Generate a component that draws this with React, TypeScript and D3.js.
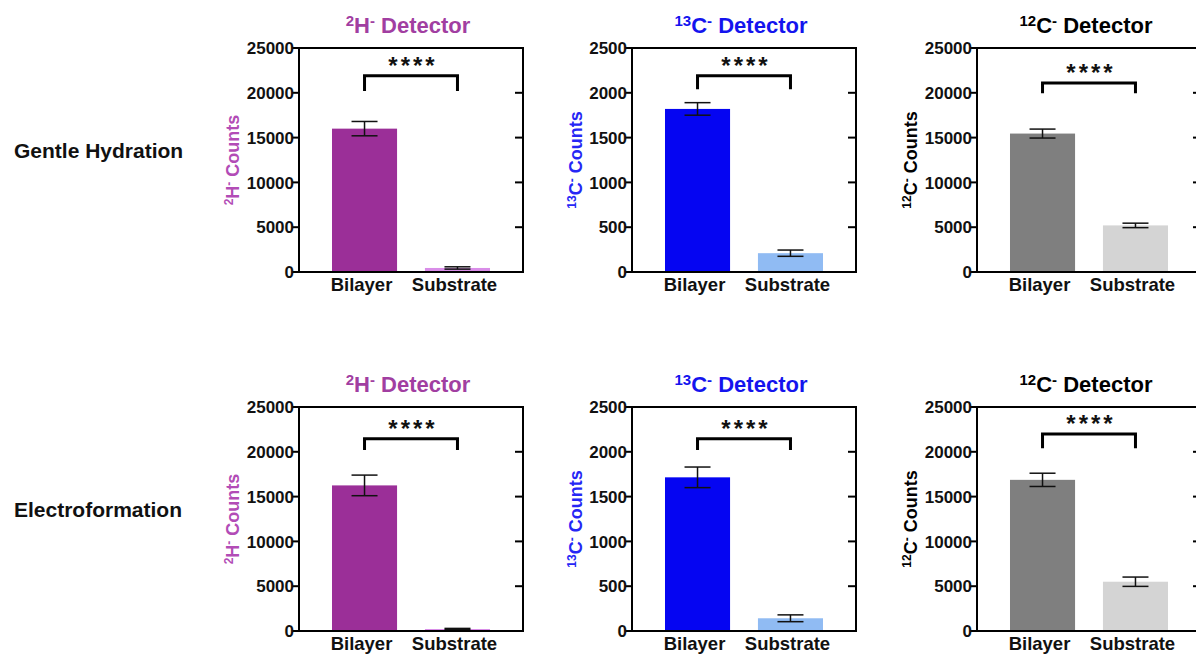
import React from "react";
import * as d3 from "d3";

const categories = ["Bilayer", "Substrate"];
const rowLabels = ["Gentle Hydration", "Electroformation"];

// [row][category]
const h2Means = [[16000, 450], [16250, 220]];
const h2Errors = [[800, 130], [1150, 70]];
const c13Means = [[1820, 210], [1715, 142]];
const c13Errors = [[70, 35], [115, 38]];
const c12Means = [[15450, 5200], [16870, 5500]];
const c12Errors = [[500, 250], [740, 520]];

// significance bracket: [top, leg bottom] per row
const h2Bracket = [[21900, 20200], [21450, 20200]];
const c13Bracket = [[2190, 2040], [2145, 2020]];
const c12Bracket = [[21100, 19950], [22000, 20400]];

const countTicks = [0, 5000, 10000, 15000, 20000, 25000];
const c13Ticks = [0, 500, 1000, 1500, 2000, 2500];

const FONT = "Arial, 'Liberation Sans', Helvetica, sans-serif";

type Detector = {
  mass: string;
  el: string;
  means: number[][];
  errors: number[][];
  bracket: number[][];
  ticks: number[];
  barColors: string[];
  titleColor: string;
  labelColor: string;
  left: number;
  labelOffset: number;
};

const detectors: Detector[] = [
  {
    mass: "2", el: "H", means: h2Means, errors: h2Errors, bracket: h2Bracket, ticks: countTicks,
    barColors: ["#9B2F98", "#D98DE8"], titleColor: "#A13EA1", labelColor: "#B24CB6", left: 299, labelOffset: 60,
  },
  {
    mass: "13", el: "C", means: c13Means, errors: c13Errors, bracket: c13Bracket, ticks: c13Ticks,
    barColors: ["#0505F2", "#90BBF3"], titleColor: "#1414EE", labelColor: "#2626F5", left: 632, labelOffset: 50,
  },
  {
    mass: "12", el: "C", means: c12Means, errors: c12Errors, bracket: c12Bracket, ticks: countTicks,
    barColors: ["#7F7F7F", "#D4D4D4"], titleColor: "#000000", labelColor: "#000000", left: 977, labelOffset: 60,
  },
];

const rowTops = [48, 407];
const plotW = 224;
const plotH = 224;

function Panel({ d, row }: { d: Detector; row: number }) {
  const top = rowTops[row];
  const left = d.left;
  const bottom = top + plotH;
  const maxY = d.ticks[d.ticks.length - 1];

  const x = d3.scaleBand().domain(categories).range([left, left + plotW]).paddingInner(0.3).paddingOuter(0.355);
  const y = d3.scaleLinear().domain([0, maxY]).range([bottom, top]);

  const means = d.means[row];
  const errs = d.errors[row];
  const [bTop, bLeg] = d.bracket[row];
  const x1 = x(categories[0])! + x.bandwidth() / 2;
  const x2 = x(categories[1])! + x.bandwidth() / 2;
  const cx = left + plotW / 2;

  return (
    <g fontFamily={FONT}>
      {/* title */}
      <text x={cx - 3} y={top - 15} textAnchor="middle" fontSize={22} fontWeight="bold" fill={d.titleColor}>
        <tspan fontSize={15} dy={-7}>{d.mass}</tspan>
        <tspan dy={7}>{d.el}</tspan>
        <tspan fontSize={15} dy={-7}>-</tspan>
        <tspan dy={7}> Detector</tspan>
      </text>

      {/* y label */}
      <text
        transform={`translate(${left - d.labelOffset},${top + plotH / 2}) rotate(-90)`}
        textAnchor="middle"
        fontSize={18}
        fontWeight="bold"
        fill={d.labelColor}
      >
        <tspan fontSize={12} dy={-6}>{d.mass}</tspan>
        <tspan dy={6}>{d.el}</tspan>
        <tspan fontSize={12} dy={-6}>-</tspan>
        <tspan dy={6}> Counts</tspan>
      </text>

      {/* bars */}
      {categories.map((c, i) => (
        <rect key={c} x={x(c)} y={y(means[i])} width={x.bandwidth()} height={bottom - y(means[i])} fill={d.barColors[i]} />
      ))}

      {/* error bars */}
      {categories.map((c, i) => {
        const mx = x(c)! + x.bandwidth() / 2;
        const yt = y(means[i] + errs[i]);
        const yb = y(Math.max(0, means[i] - errs[i]));
        return (
          <g key={c} stroke="#111" strokeWidth={1.5} fill="none">
            <line x1={mx} x2={mx} y1={yt} y2={yb} />
            <line x1={mx - 13} x2={mx + 13} y1={yt} y2={yt} />
            <line x1={mx - 13} x2={mx + 13} y1={yb} y2={yb} />
          </g>
        );
      })}

      {/* frame */}
      <g stroke="#000" strokeWidth={2} fill="none">
        <path d={`M${left},${top}V${bottom}H${left + plotW}V${top}H${left}`} />
      </g>

      {/* ticks */}
      {d.ticks.map((t) => (
        <g key={t}>
          <line x1={left - 7} x2={left} y1={y(t)} y2={y(t)} stroke="#000" strokeWidth={2} />
          <line x1={left + plotW - 8} x2={left + plotW} y1={y(t)} y2={y(t)} stroke="#000" strokeWidth={2} />
          <text x={left - 5} y={y(t)} dy="0.36em" textAnchor="end" fontSize={17} fontWeight="bold" fill="#111">
            {t}
          </text>
        </g>
      ))}

      {/* category labels */}
      {categories.map((c) => (
        <text key={c} x={x(c)! + x.bandwidth() / 2 - 3} y={bottom + 19} textAnchor="middle" fontSize={18.5} fontWeight="bold" fill="#111">
          {c}
        </text>
      ))}

      {/* significance */}
      <path
        d={`M${x1},${y(bLeg)}V${y(bTop)}H${x2}V${y(bLeg)}`}
        stroke="#000"
        strokeWidth={3}
        fill="none"
      />
      <text x={(x1 + x2) / 2 + 2} y={y(bTop) - 2} textAnchor="middle" fontSize={24} fontWeight="bold" letterSpacing={3} fill="#111">
        ****
      </text>
    </g>
  );
}

export default function App() {
  return (
    <svg
      width={1196}
      height={656}
      style={{ position: "absolute", left: 0, top: 0, background: "#fff" }}
    >
      <rect width={1196} height={656} fill="#fff" />
      {rowLabels.map((r, i) => (
        <text key={r} x={14} y={rowTops[i] + 110} fontFamily={FONT} fontSize={21} fontWeight="bold" fill="#111">
          {r}
        </text>
      ))}
      {rowTops.map((_, row) => detectors.map((d) => <Panel key={d.left + "-" + row} d={d} row={row} />))}
    </svg>
  );
}
